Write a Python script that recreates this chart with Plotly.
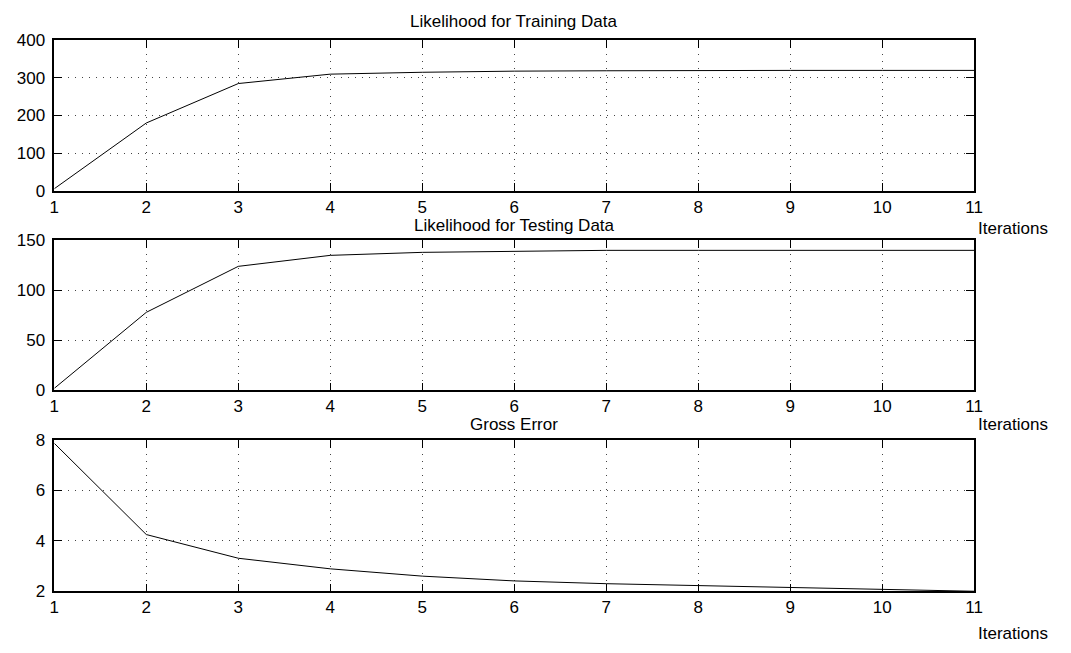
import plotly.graph_objects as go

iterations = [1, 2, 3, 4, 5, 6, 7, 8, 9, 10, 11]
train_likelihood = [5, 180, 285, 310, 315, 318, 319, 320, 320, 320, 320]
test_likelihood = [2, 78, 124, 135, 138, 139, 140, 140, 140, 140, 140]
gross_error = [7.87, 4.25, 3.31, 2.89, 2.60, 2.41, 2.30, 2.22, 2.14, 2.07, 2.0]

titles = ["Likelihood for Training Data", "Likelihood for Testing Data", "Gross Error"]
xlabel = "Iterations"

W, H = 1071, 653
FONT = "Liberation Sans, Arial, Helvetica, sans-serif"
FS = 17

x0, x1 = 50, 982
panels = [(32.3, 187.0), (238.3, 392.7), (444.0, 599.7)]
yranges = [[0, 400], [0, 150], [2, 8]]
ydticks = [100, 50, 2]
series = [train_likelihood, test_likelihood, gross_error]
title_y = [13, 223, 428]
iter_y = [226, 428, 643]

fig = go.Figure()
layout = dict(
    width=W, height=H, autosize=False,
    margin=dict(l=0, r=0, t=0, b=0),
    paper_bgcolor="white", plot_bgcolor="white",
    showlegend=False,
    font=dict(family=FONT, size=FS, color="black"),
    annotations=[],
)

grid = dict(showgrid=True, gridcolor="#444444", gridwidth=1, griddash="1px,6px",
            zeroline=False, showline=True, linecolor="black", linewidth=1.5,
            mirror="ticks", ticks="inside", ticklen=8, tickwidth=1, tickcolor="black",
            tickfont=dict(family=FONT, size=FS, color="black"))

for i, (top, bot) in enumerate(panels):
    n = "" if i == 0 else str(i + 1)
    xa = "x" + n
    ya = "y" + n
    fig.add_trace(go.Scatter(x=iterations, y=series[i], mode="lines",
                             line=dict(color="black", width=1),
                             xaxis=xa, yaxis=ya, hoverinfo="skip"))
    layout["xaxis" + n] = dict(domain=[x0 / W, x1 / W], range=[1, 11],
                               tickmode="array", tickvals=iterations,
                               ticktext=[str(v) for v in iterations],
                               anchor=ya, ticklabelstandoff=0, **grid)
    layout["yaxis" + n] = dict(domain=[1 - bot / H, 1 - top / H], range=yranges[i],
                               dtick=ydticks[i], tick0=0, anchor=xa,
                               ticklabelstandoff=4, **grid)
    layout["annotations"].append(dict(text=titles[i], x=(x0 + x1) / 2 / W, y=1 - title_y[i] / H,
                                      xref="paper", yref="paper", showarrow=False,
                                      xanchor="center", yanchor="middle",
                                      font=dict(family=FONT, size=FS, color="black")))
    layout["annotations"].append(dict(text=xlabel, x=1021 / W, y=1 - iter_y[i] / H,
                                      xref="paper", yref="paper", showarrow=False,
                                      xanchor="center", yanchor="middle",
                                      font=dict(family=FONT, size=FS, color="black")))

fig.update_layout(**layout)
fig.write_html("out.html")
